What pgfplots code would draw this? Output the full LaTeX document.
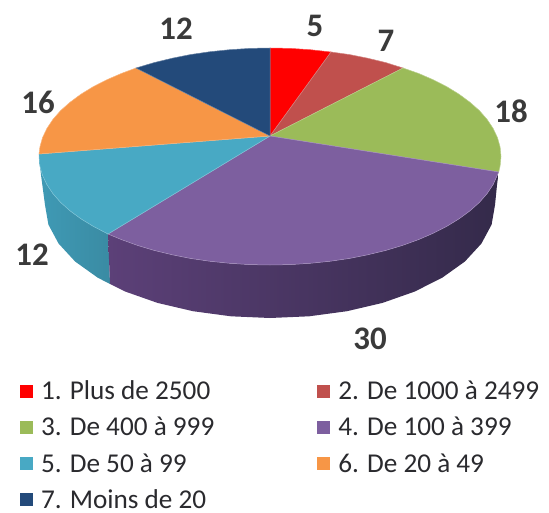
\documentclass[border=0pt]{standalone}
\usepackage{fontspec}
\setmainfont{Carlito}
\usepackage{pgfplots}
\pgfplotsset{compat=1.18}
\definecolor{c1}{HTML}{FF0000}
\definecolor{c2}{HTML}{C0504D}
\definecolor{c3}{HTML}{9BBB59}
\definecolor{c4}{HTML}{7D5F9F}
\definecolor{c5}{HTML}{48A9C4}
\definecolor{c6}{HTML}{F79646}
\definecolor{c7}{HTML}{234A7A}
\definecolor{lab}{HTML}{3A3A3A}
\definecolor{leg}{HTML}{2A2A2E}
\definecolor{pl}{HTML}{5C4078}
\definecolor{pr}{HTML}{342A4A}
\definecolor{tl}{HTML}{3F9AB5}
\definecolor{tr}{HTML}{3A8BA3}
\begin{document}
\begin{tikzpicture}
\useasboundingbox (0,0) rectangle (549bp,513bp);
\begin{axis}[
  at={(0,0)}, anchor=south west,
  scale only axis, width=549bp, height=513bp,
  xmin=0, xmax=549, ymin=0, ymax=513, y dir=reverse,
  hide axis, clip=false,
  legend columns=2,
  legend cell align=left,
  legend image code/.code={\fill[#1,draw=none] (0bp,-6.5bp) rectangle (13bp,6.5bp);},
  legend style={
    at={(axis cs:20,381)}, anchor=north west,
    draw=none, fill=none, inner sep=0pt, outer sep=0pt,
    font=\fontsize{27.3}{32}\selectfont,
    row sep=16bp,
    nodes={inner sep=0pt, text=leg},
    /tikz/column 1/.style={column sep=8bp},
    /tikz/column 2/.style={column sep=103bp},
    /tikz/column 3/.style={column sep=8bp},
  },
]
% side walls
\addplot[forget plot, draw=none, left color=tl, right color=tr] coordinates {
 (108,234) (93,226.2) (80.8,218.7) (70,210.8) (60.6,202.4) (52.9,193.6) (46.9,184.6) (42.5,175.3) (39.9,166) (39,156.5)
 (41,175) (43,190) (45,205) (48.4,224.6) (58.6,243.6) (75.1,261.5) (97.6,277.6) (110,284)} -- cycle;
\addplot[forget plot, draw=none, left color=pl, right color=pr] coordinates {
 (498.7,172) (493.1,184.6) (487.1,193.6) (479.4,202.4) (470,210.8) (459.2,218.7) (447,226.2) (433.3,233.2) (418.5,239.6) (402.5,245.4) (385.5,250.5) (367.6,254.8) (349,258.5) (329.8,261.3) (310.1,263.3) (290.1,264.6) (270,265) (249.9,264.6) (229.9,263.3) (210.2,261.3) (191,258.5) (172.4,254.8) (154.5,250.5) (137.5,245.4) (121.5,239.6) (108,234)
 (110,284) (125.4,291.6) (157.5,302.9) (193,311.2) (230.9,316.3) (270,318) (309.1,316.3) (347,311.2) (382.5,302.9) (414.6,291.6) (442.4,277.6) (464.9,261.5) (481.4,243.6) (491.6,224.6) (495,205) (497,185)} -- cycle;
% top wedges
\addplot[fill=c1, draw=c1!70!white, line width=0.5pt] coordinates {
 (270,136) (270,48) (290.1,48.4) (310.1,49.7) (331,52)} -- cycle;
\addplot[fill=c2, draw=c2!70!white, line width=0.5pt] coordinates {
 (270,136) (331,52) (349,54.5) (367.6,58.2) (385.5,62.5) (403,68)} -- cycle;
\addplot[fill=c3, draw=c3!70!white, line width=0.5pt] coordinates {
 (270,136) (403,68) (418.5,73.4) (433.3,79.8) (447,86.8) (459.2,94.3) (470,102.3) (479.4,110.6) (487.1,119.4) (493.1,128.4) (497.5,137.7) (500.1,147) (501,156.5) (500.1,166) (498.7,172)} -- cycle;
\addplot[fill=c4, draw=c4!70!white, line width=0.5pt] coordinates {
 (270,136) (498.7,172) (493.1,184.6) (487.1,193.6) (479.4,202.4) (470,210.8) (459.2,218.7) (447,226.2) (433.3,233.2) (418.5,239.6) (402.5,245.4) (385.5,250.5) (367.6,254.8) (349,258.5) (329.8,261.3) (310.1,263.3) (290.1,264.6) (270,265) (249.9,264.6) (229.9,263.3) (210.2,261.3) (191,258.5) (172.4,254.8) (154.5,250.5) (137.5,245.4) (121.5,239.6) (108,234)} -- cycle;
\addplot[fill=c5, draw=c5!70!white, line width=0.5pt] coordinates {
 (270,136) (108,234) (93,226.2) (80.8,218.7) (70,210.8) (60.6,202.4) (52.9,193.6) (46.9,184.6) (42.5,175.3) (39.9,166) (39,156.5) (39,154)} -- cycle;
\addplot[fill=c6, draw=c6!70!white, line width=0.5pt] coordinates {
 (270,136) (39,154) (39.9,147) (42.5,137.7) (46.9,128.4) (52.9,119.4) (60.6,110.6) (70,102.3) (80.8,94.3) (93,86.8) (106.7,79.8) (121.5,73.4) (136,68)} -- cycle;
\addplot[fill=c7, draw=c7!70!white, line width=0.5pt] coordinates {
 (270,136) (136,68) (154.5,62.5) (172.4,58.2) (191,54.5) (210.2,51.7) (229.9,49.7) (249.9,48.4) (270,48)} -- cycle;
\legend{1. Plus de 2500, 2. De 1000 à 2499, 3. De 400 à 999, 4. De 100 à 399, 5. De 50 à 99, 6. De 20 à 49, 7. Moins de 20}
% value labels
\begin{scope}[every node/.style={font=\fontsize{33}{33}\selectfont\bfseries, text=lab, inner sep=0pt}]
\node at (axis cs:176,29) {12};
\node at (axis cs:315,26) {5};
\node at (axis cs:386,41) {7};
\node at (axis cs:511,111) {18};
\node at (axis cs:38,102) {16};
\node at (axis cs:32,255) {12};
\node at (axis cs:370,339) {30};
\end{scope}
\end{axis}
\end{tikzpicture}
\end{document}
